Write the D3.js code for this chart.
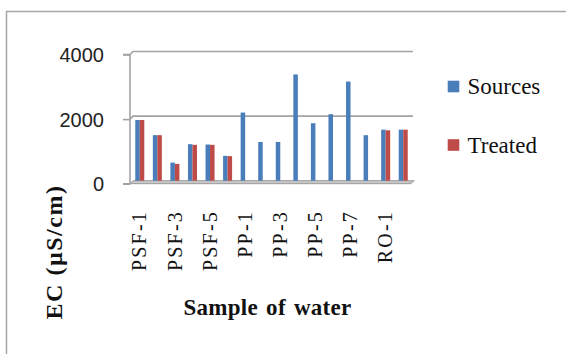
<!DOCTYPE html>
<html>
<head>
<meta charset="utf-8">
<script src="https://cdn.jsdelivr.net/npm/d3@7/dist/d3.min.js"></script>
<style>
  html, body { margin: 0; padding: 0; background: #fff; }
  svg { display: block; }
</style>
</head>
<body>
<svg id="chart" width="566" height="354"></svg>
<script>
// Electrical conductivity of raw sources and treated water per sample
const categories = ["PSF-1", "PSF-2", "PSF-3", "PSF-4", "PSF-5", "PSF-6",
  "PP-1", "PP-2", "PP-3", "PP-4", "PP-5", "PP-6", "PP-7", "PP-8",
  "RO-1", "RO-2"];
const sources = [1880, 1410, 560, 1130, 1120, 770,
  2110, 1200, 1200, 3290, 1780, 2060, 3070, 1410,
  1580, 1580];
const treated = [1880, 1410, 520, 1110, 1110, 760,
  null, null, null, null, null, null, null, null,
  1560, 1580];
const seriesNames = ["Sources", "Treated"];
const seriesColors = ["#4a7ebb", "#be4b48"];
const yTicks = [0, 2000, 4000];
const yTitle = "EC (\u00b5S/cm)";
const xTitle = "Sample of water";

const svg = d3.select("#chart");

// outer frame
svg.append("rect")
  .attr("x", 6.5).attr("y", 11.5)
  .attr("width", 570).attr("height", 360)
  .attr("fill", "#fff").attr("stroke", "#a6a6a6").attr("stroke-width", 1.5);

const left = 131, right = 412;
const x = d3.scaleBand().domain(categories).range([left, right]).paddingInner(0).paddingOuter(0);
const xSub = d3.scaleBand().domain(seriesNames).range([0, x.bandwidth()]).paddingInner(0).paddingOuter(0.95);
const y = d3.scaleLinear().domain([0, 4000]).range([180.7, 51.5]);

const depth = 3; // offset of the back wall

// back-wall gridlines with short slanted joins to the front axis
const grid = svg.append("g");
yTicks.filter(v => v > 0).forEach(v => {
  grid.append("path")
    .attr("d", `M${left - 1},${y(v) + depth} L${left - 1 + depth},${y(v)} L${right + 1},${y(v)}`)
    .attr("fill", "none").attr("stroke", "#a3a3a3").attr("stroke-width", 1.6);
});

// floor
svg.append("path")
  .attr("d", `M${left - 1},${y(0) + depth} L${left - 1 + depth},${y(0)} L${right + 2},${y(0)} L${right - 1},${y(0) + depth} Z`)
  .attr("fill", "#c8c8c8").attr("stroke", "#9a9a9a").attr("stroke-width", 1);

// y axis (front edge)
const yAxis = d3.axisLeft(y).tickValues(yTicks).tickSize(7).tickPadding(19)
  .tickFormat(d3.format("d"));
const yg = svg.append("g").attr("transform", `translate(${left - 1},${depth})`).call(yAxis);
yg.select(".domain").attr("stroke", "#a3a3a3").attr("stroke-width", 1.6)
  .attr("d", `M-7,${y(4000)}H0V${y(0)}H-7`);
yg.selectAll(".tick line").attr("stroke", "#a3a3a3").attr("stroke-width", 1.6);
yg.selectAll(".tick text")
  .attr("font-family", "'Liberation Sans', Arial, sans-serif")
  .attr("font-size", 20).attr("fill", "#222")
  .attr("dy", "0.36em");

// bars
const groups = svg.append("g").selectAll("g")
  .data(categories.map((c, i) => ({ c, vals: [sources[i], treated[i]] })))
  .join("g")
  .attr("transform", d => `translate(${x(d.c)},0)`);
groups.selectAll("rect")
  .data(d => d.vals.map((v, k) => ({ v, k })).filter(e => e.v != null))
  .join("rect")
  .attr("x", e => xSub(seriesNames[e.k]))
  .attr("width", xSub.bandwidth())
  .attr("y", e => y(e.v))
  .attr("height", e => y(0) - y(e.v))
  .attr("fill", e => seriesColors[e.k]);

// category labels (every other sample)
const xAxis = d3.axisBottom(x)
  .tickValues(categories.filter((c, i) => i % 2 === 0))
  .tickSize(0).tickPadding(0);
const xg = svg.append("g").attr("transform", `translate(0,210)`).call(xAxis);
xg.select(".domain").remove();
xg.selectAll(".tick text")
  .attr("font-family", "'Liberation Serif', 'Times New Roman', serif")
  .attr("font-size", 20).attr("fill", "#111")
  .attr("letter-spacing", 2.2)
  .attr("text-anchor", "end")
  .attr("transform", "rotate(-90)")
  .attr("x", 0).attr("y", 0)
  .attr("dx", 0).attr("dy", "0.33em");

// axis titles
svg.append("text")
  .attr("transform", "translate(54,252) rotate(-90)")
  .attr("text-anchor", "middle").attr("dy", "0.35em")
  .attr("font-family", "'Liberation Serif', 'Times New Roman', serif")
  .attr("font-size", 24).attr("font-weight", "bold").attr("fill", "#111")
  .attr("letter-spacing", 1.5)
  .text(yTitle);

svg.append("text")
  .attr("x", 267.5).attr("y", 315)
  .attr("text-anchor", "middle")
  .attr("font-family", "'Liberation Serif', 'Times New Roman', serif")
  .attr("font-size", 23).attr("font-weight", "bold").attr("fill", "#111")
  .attr("letter-spacing", 0.3)
  .attr("word-spacing", 2)
  .text(xTitle);

// legend
const legend = svg.append("g");
const legendY = [86.5, 145];
seriesNames.forEach((name, k) => {
  legend.append("rect")
    .attr("x", 447.7).attr("y", legendY[k] - 5.8)
    .attr("width", 11.6).attr("height", 11.6)
    .attr("fill", seriesColors[k]);
  legend.append("text")
    .attr("x", 467.5).attr("y", legendY[k]).attr("dy", "0.33em")
    .attr("font-family", "'Liberation Serif', 'Times New Roman', serif")
    .attr("font-size", 23).attr("fill", "#111")
    .text(name);
});
</script>
</body>
</html>
